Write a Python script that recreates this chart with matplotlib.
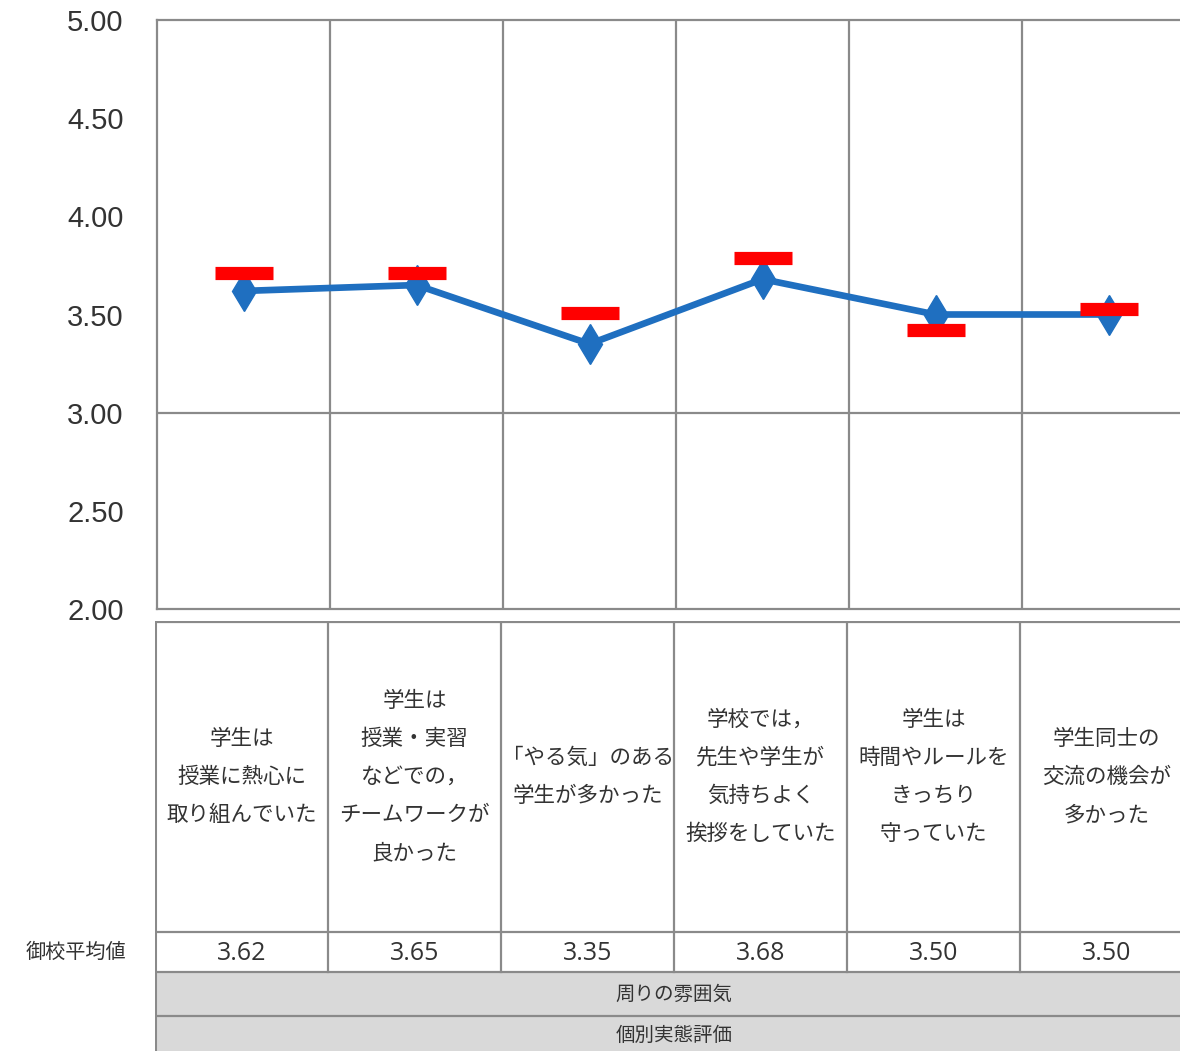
import matplotlib
matplotlib.use("Agg")
import matplotlib.pyplot as plt
import numpy as np

plt.rcParams['font.family'] = ['Noto Sans CJK JP', 'DejaVu Sans']

# data
categories = [
    "学生は\n授業に熱心に\n取り組んでいた",
    "学生は\n授業・実習\nなどでの，\nチームワークが\n良かった",
    "「やる気」のある\n学生が多かった",
    "学校では，\n先生や学生が\n気持ちよく\n挨拶をしていた",
    "学生は\n時間やルールを\nきっちり\n守っていた",
    "学生同士の\n交流の機会が\n多かった",
]
school_avg = [3.62, 3.65, 3.35, 3.68, 3.50, 3.50]
overall_avg = [3.71, 3.71, 3.51, 3.79, 3.42, 3.53]
row_label = "御校平均値"
group_labels = ["周りの雰囲気", "個別実態評価"]
yticks = [2.0, 2.5, 3.0, 3.5, 4.0, 4.5, 5.0]

W, H = 1180, 1051
fig = plt.figure(figsize=(W / 100, H / 100), dpi=100)
grid_c = '#8a8a8a'
x = np.arange(len(categories))

# ---- chart part
ax = fig.add_axes([157 / W, 1 - 609 / H, 1038 / W, 589 / H])
ax.set_xlim(-0.5, len(categories) - 0.5)
ax.set_ylim(2.0, 5.0)
ax.plot(x, school_avg, color='#1f6fc0', lw=4.8, marker='d', ms=20, zorder=3)
ax.plot(x, overall_avg, ls='none', marker='_', ms=42, mew=9.5, color='#ff0000',
        zorder=4)
for xv in x[1:]:
    ax.axvline(xv - 0.5, color=grid_c, lw=1.6, zorder=1)
ax.axhline(3.0, color=grid_c, lw=1.6, zorder=1)
for s in ax.spines.values():
    s.set_color(grid_c)
    s.set_linewidth(1.6)
ax.set_xticks([])
ax.set_yticks(yticks)
ax.set_yticklabels([f"{v:.2f}" for v in yticks], family='Liberation Sans',
                   fontsize=21, color='#333333')
ax.tick_params(axis='y', length=0, pad=24)

# ---- table part (y in pixels, downward)
tab = fig.add_axes([155 / W, 0, 1038 / W, (H - 621) / H])
tab.set_xlim(-0.5, len(categories) - 0.5)
tab.set_ylim(H, 621)
tab.axis('off')
rows = [622, 932, 972, 1016, H]
for r in rows[:-1]:
    tab.axhline(r, color=grid_c, lw=1.6)
tab.axvline(-0.5, color=grid_c, lw=2.2)
for xv in x[1:]:
    tab.plot([xv - 0.5, xv - 0.5], [rows[0], rows[2]], color=grid_c, lw=1.6)
tab.axhspan(rows[2], rows[4], color='#d9d9d9', zorder=0)
for xv, lab, v in zip(x, categories, school_avg):
    tab.text(xv, (rows[0] + rows[1]) / 2, lab, ha='center', va='center',
             multialignment='center', fontsize=15.5, linespacing=1.95,
             color='#333333')
    tab.text(xv, (rows[1] + rows[2]) / 2 + 1, f"{v:.2f}", ha='center',
             va='center', family='Open Sans', fontsize=18, color='#333333')
mid = (len(categories) - 1) / 2
tab.text(mid, (rows[2] + rows[3]) / 2, group_labels[0], ha='center',
         va='center', fontsize=14, color='#333333')
tab.text(mid, 1035, group_labels[1], ha='center', va='center', fontsize=14,
         color='#333333')

fig.text(76 / W, 1 - 952 / H, row_label, ha='center', va='center',
         fontsize=14.5, color='#333333')

fig.savefig('out.png', dpi=100)
